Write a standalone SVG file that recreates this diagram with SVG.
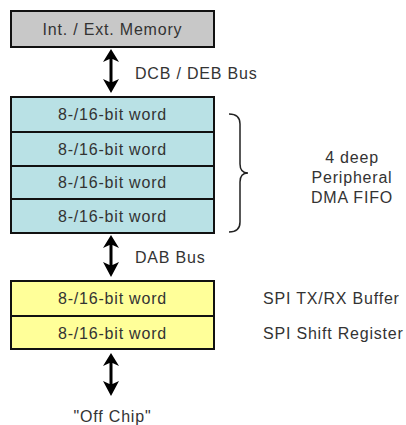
<svg xmlns="http://www.w3.org/2000/svg" width="406" height="425" viewBox="0 0 406 425">
<defs>
<style>
text{font-family:"Liberation Sans",Arial,sans-serif;font-size:16px;letter-spacing:0.8px;fill:#333;}
.c{text-anchor:middle;}
.box{stroke:#111;stroke-width:2;}
.g{fill:#c8c8c8;}
.b{fill:#b9e1e5;}
.y{fill:#ffff99;}
.ar{fill:#000;stroke:none;}
</style>
</defs>
<rect width="406" height="425" fill="#fff"/>
<g id="memory">
<rect class="box g" x="11" y="11" width="203" height="36"/>
<text class="c" x="112.5" y="35">Int. / Ext. Memory</text>
</g>
<g id="fifo">
<rect class="box b" x="11" y="97" width="203" height="35"/>
<text class="c" x="112.5" y="120">8-/16-bit word</text>
<rect class="box b" x="11" y="132" width="203" height="34"/>
<text class="c" x="112.5" y="155">8-/16-bit word</text>
<rect class="box b" x="11" y="166" width="203" height="33"/>
<text class="c" x="112.5" y="188">8-/16-bit word</text>
<rect class="box b" x="11" y="199" width="203" height="34"/>
<text class="c" x="112.5" y="222">8-/16-bit word</text>
</g>
<g id="fifo-label">
<path d="M229,114 Q240,114 240,124 L240,164 Q240,173 248,173 Q240,173 240,182 L240,222 Q240,232 229,232" fill="none" stroke="#222" stroke-width="1.5"/>
<text class="c" x="352" y="163">4 deep</text>
<text class="c" x="352" y="183">Peripheral</text>
<text class="c" x="352" y="203">DMA FIFO</text>
</g>
<g id="spi">
<rect class="box y" x="11" y="281" width="203" height="35"/>
<text class="c" x="112.5" y="304">8-/16-bit word</text>
<rect class="box y" x="11" y="316" width="203" height="33"/>
<text class="c" x="112.5" y="339">8-/16-bit word</text>
<text x="263" y="304">SPI TX/RX Buffer</text>
<text x="263" y="339">SPI Shift Register</text>
</g>
<g id="offchip">
<text class="c" x="112.5" y="422">"Off Chip"</text>
</g>
<g id="connectors">
<path class="ar" d="M111,49 L119,62 L112.5,59 L112.5,82 L119,79 L111,93 L103,79 L109.5,82 L109.5,59 L103,62 Z"/>
<path class="ar" d="M111,235 L119,248 L112.5,245 L112.5,265 L119,262 L111,277 L103,262 L109.5,265 L109.5,245 L103,248 Z"/>
<path class="ar" d="M111,353 L119,366 L112.5,363 L112.5,384 L119,381 L111,396 L103,381 L109.5,384 L109.5,363 L103,366 Z"/>
<text x="135" y="79">DCB / DEB Bus</text>
<text x="135" y="263">DAB Bus</text>
</g>
</svg>
